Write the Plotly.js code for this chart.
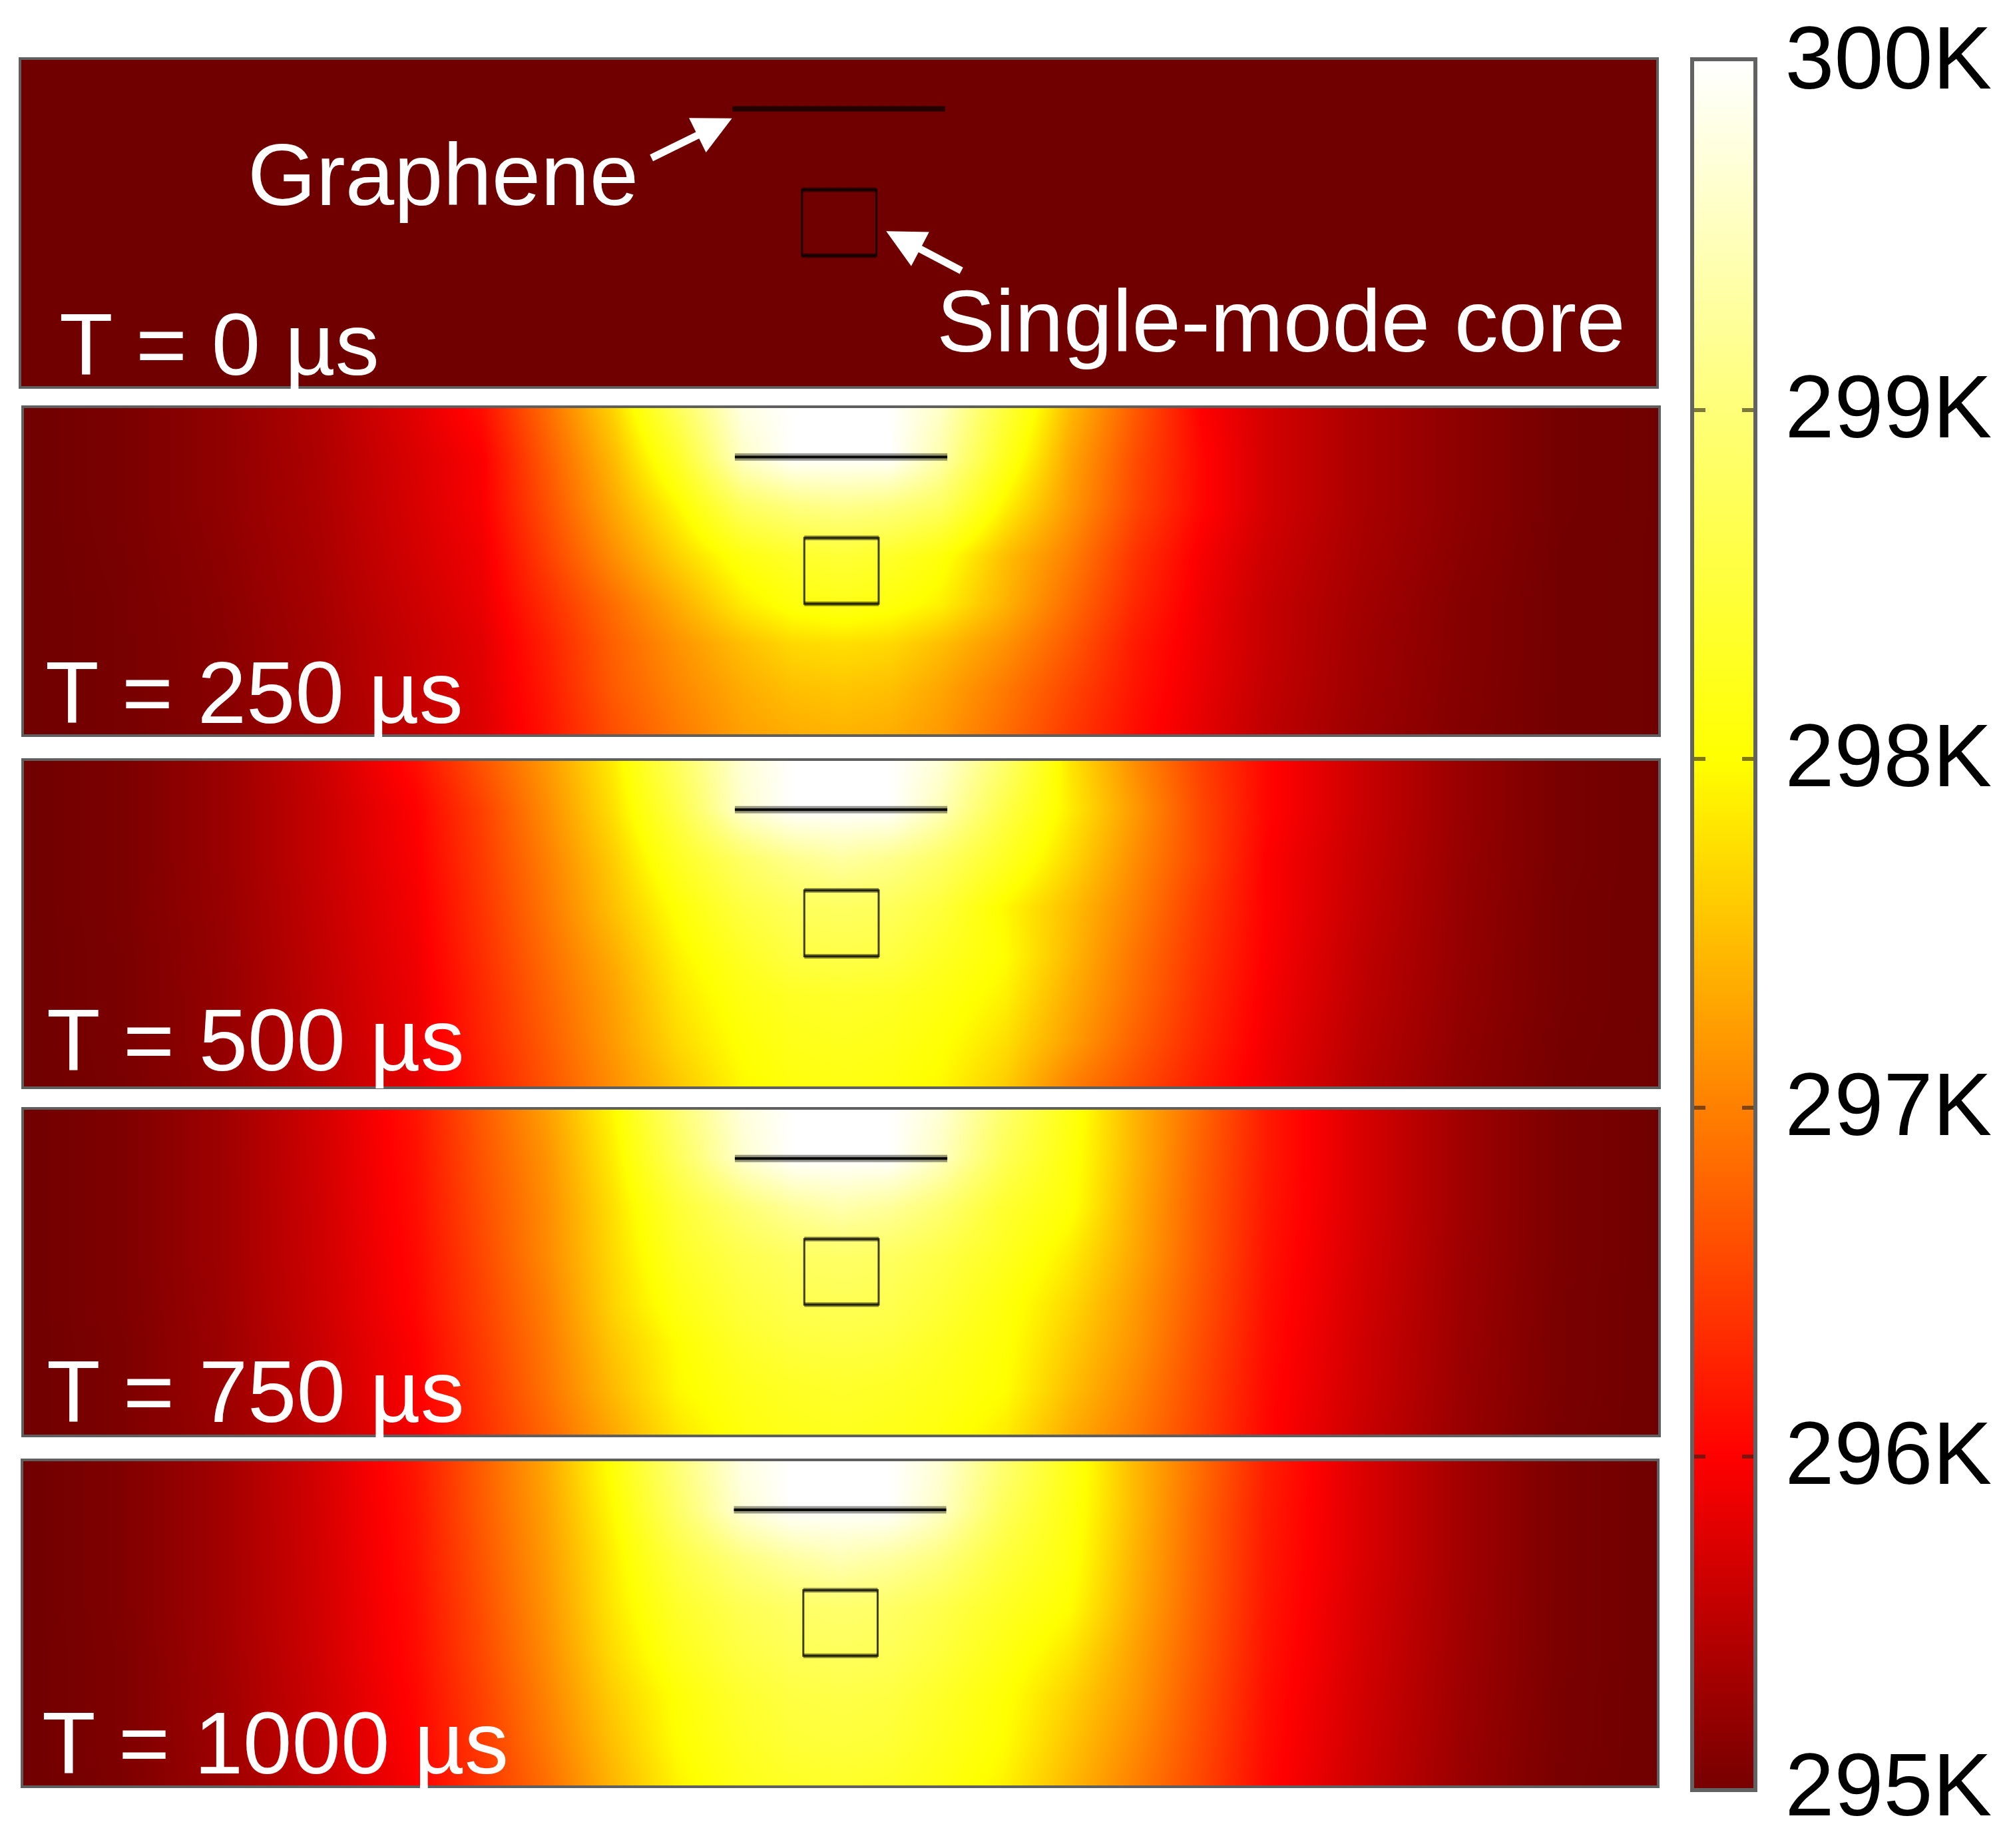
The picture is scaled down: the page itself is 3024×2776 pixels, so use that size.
<!DOCTYPE html>
<html>
<head>
<meta charset="utf-8">
<script src="https://cdn.plot.ly/plotly-3.0.1.min.js"></script>
<style>html,body{margin:0;padding:0;background:#fff}#chart{width:3024px;height:2776px}</style>
</head>
<body>
<div id="chart"></div>
<script>
// Columns: percent of panel width; rows: percent of panel height from the top
const xCols = [0,6,12,18,24,28,32,36,40,44,47,50,53,56,60,64,68,72,76,82,88,94,100];
const yRows = [0,15,30,45,60,72,86,100];

const t0 = [[295,295],[295,295]];
const t250 = [
[295,295.07,295.22,295.45,295.8,296.1,296.85,297.65,298.75,299.8,300,300,300,299.6,298.5,297.45,296.7,296,295.7,295.4,295.2,295.03,295],
[295,295.07,295.22,295.43,295.75,295.98,296.72,297.45,298.35,299.6,300,300,300,299.4,298.25,297.3,296.6,296.05,295.7,295.4,295.2,295.03,295],
[295,295.07,295.22,295.42,295.73,295.96,296.62,297.3,297.95,298.8,299.05,299.15,299.05,298.8,297.9,297.2,296.55,296.05,295.7,295.4,295.2,295.03,295],
[295,295.06,295.2,295.4,295.7,295.9,296.5,297.1,297.65,298.15,298.35,298.45,298.35,298.1,297.5,297,296.4,295.95,295.65,295.38,295.18,295.02,295],
[295,295.05,295.18,295.38,295.65,295.85,296.35,296.85,297.35,297.85,298.1,298.2,298.1,297.9,297.4,296.85,296.3,295.9,295.6,295.35,295.15,295.02,295],
[295,295.05,295.17,295.36,295.62,295.8,296.25,296.75,297.15,297.5,297.7,297.75,297.7,297.5,297.15,296.7,296.2,295.88,295.6,295.33,295.15,295.02,295],
[295,295.05,295.16,295.35,295.6,295.78,296.2,296.7,297.05,297.35,297.5,297.55,297.5,297.3,296.95,296.55,296.15,295.85,295.58,295.32,295.14,295.02,295],
[295,295.05,295.15,295.33,295.58,295.76,296.15,296.6,296.95,297.25,297.35,297.4,297.35,297.2,296.85,296.45,296.1,295.82,295.55,295.3,295.13,295.02,295]
];
const t500 = [
[295,295.08,295.28,295.62,296.1,296.65,297.2,297.85,298.8,299.7,300,300,300,299.7,298.9,297.8,297.1,296.5,296.05,295.62,295.28,295.06,295],
[295,295.08,295.28,295.6,296,296.5,297.1,297.75,298.6,299.65,300,300,300,299.5,298.6,297.85,297.2,296.55,296.05,295.62,295.28,295.06,295],
[295,295.08,295.28,295.6,295.97,296.45,297,297.6,298.3,298.85,299.15,299.3,299.15,298.85,298.3,297.7,297.1,296.55,296,295.6,295.27,295.06,295],
[295,295.08,295.27,295.58,295.93,296.4,296.93,297.5,298.05,298.55,298.75,298.8,298.75,298.5,297.95,297.5,297,296.45,296,295.58,295.26,295.05,295],
[295,295.07,295.26,295.56,295.9,296.35,296.85,297.35,297.9,298.3,298.55,298.6,298.55,298.3,298,297.45,296.9,296.4,295.98,295.55,295.25,295.05,295],
[295,295.07,295.25,295.55,295.87,296.3,296.78,297.25,297.8,298.15,298.3,298.35,298.3,298.15,297.9,297.35,296.85,296.35,295.95,295.53,295.24,295.05,295],
[295,295.07,295.25,295.53,295.85,296.27,296.72,297.2,297.7,298.05,298.2,298.25,298.2,298.05,297.75,297.25,296.75,296.3,295.92,295.5,295.22,295.04,295],
[295,295.06,295.23,295.5,295.82,296.2,296.65,297.1,297.55,297.95,298.1,298.15,298.1,297.95,297.6,297,296.6,296.2,295.88,295.47,295.2,295.03,295]
];
const t750 = [
[295,295.1,295.32,295.68,296.15,296.7,297.25,297.95,298.95,299.75,300,300,300,299.7,298.9,298.15,297.4,296.8,296.2,295.72,295.33,295.08,295],
[295,295.1,295.32,295.67,296.12,296.65,297.15,297.85,298.75,299.65,300,300,300,299.55,298.7,298.1,297.4,296.75,296.2,295.72,295.33,295.08,295],
[295,295.1,295.32,295.66,296.1,296.6,297.1,297.75,298.45,298.95,299.25,299.4,299.25,298.95,298.4,298.05,297.35,296.72,296.18,295.72,295.33,295.08,295],
[295,295.1,295.32,295.65,296.07,296.55,297.08,297.7,298.3,298.65,298.8,298.85,298.8,298.6,298.25,297.85,297.3,296.7,296.15,295.7,295.32,295.08,295],
[295,295.1,295.31,295.64,296.05,296.5,297,297.65,298.15,298.5,298.65,298.7,298.65,298.45,298.1,297.7,297.2,296.65,296.12,295.68,295.31,295.07,295],
[295,295.09,295.3,295.62,296,296.45,296.95,297.55,298,298.35,298.5,298.55,298.5,298.3,298.05,297.6,297.15,296.6,296.1,295.66,295.3,295.07,295],
[295,295.09,295.3,295.6,295.98,296.4,296.9,297.45,297.95,298.2,298.3,298.35,298.3,298.2,298,297.5,297.05,296.55,296.07,295.65,295.29,295.07,295],
[295,295.09,295.28,295.58,295.93,296.35,296.8,297.3,297.8,298.1,298.2,298.25,298.2,298.1,297.85,297.35,296.95,296.5,296.05,295.62,295.28,295.06,295]
];
const t1000 = [
[295,295.11,295.34,295.7,296.17,296.72,297.3,298.05,299,299.8,300,300,300,299.7,298.95,298.2,297.45,296.85,296.25,295.75,295.35,295.08,295],
[295,295.11,295.34,295.69,296.15,296.7,297.25,297.95,298.85,299.7,300,300,300,299.6,298.75,298.15,297.45,296.8,296.22,295.75,295.35,295.08,295],
[295,295.11,295.34,295.68,296.13,296.65,297.2,297.85,298.55,299.05,299.3,299.45,299.3,299.05,298.5,298.1,297.4,296.78,296.2,295.75,295.35,295.08,295],
[295,295.11,295.34,295.67,296.1,296.6,297.15,297.8,298.35,298.7,298.85,298.9,298.85,298.65,298.3,298,297.35,296.75,296.18,295.72,295.34,295.08,295],
[295,295.1,295.33,295.66,296.08,296.55,297.08,297.7,298.2,298.55,298.7,298.75,298.7,298.5,298.15,297.8,297.25,296.7,296.15,295.7,295.33,295.08,295],
[295,295.1,295.32,295.64,296.05,296.5,297.02,297.6,298.05,298.4,298.55,298.6,298.55,298.35,298.05,297.65,297.2,296.65,296.12,295.68,295.32,295.07,295],
[295,295.1,295.31,295.62,296.02,296.45,296.95,297.5,298,298.3,298.45,298.5,298.45,298.25,298,297.55,297.1,296.6,296.1,295.66,295.3,295.07,295],
[295,295.09,295.3,295.6,295.98,296.4,296.85,297.4,297.9,298.2,298.3,298.35,298.3,298.15,297.9,297.45,297,296.55,296.07,295.64,295.29,295.06,295]
];
const timeLabels = ['T = 0 µs','T = 250 µs','T = 500 µs','T = 750 µs','T = 1000 µs'];
const barTempEnds = [295,300];
const barTicks = [295.05,296,297,298,299,300];
const barTickText = ['295K','296K','297K','298K','299K','300K'];
const grapheneX = [43.5,56.5];
const grapheneY = 15;
const coreX = [47.75,52.3];
const coreY = [39.8,60];

const W = 3024, H = 2776;
const FONT = '"Liberation Sans", Arial, sans-serif';
const heat = [[0,'#700000'],[0.2,'#ff0000'],[0.4,'#ff8000'],[0.6,'#ffff00'],[0.8,'#ffff78'],[1,'#ffffff']];
// panel rectangles in pixels, and label anchor pixels
const boxes = [
 {l:32,r:2488,t:90,b:580,tx:87,ty:517},
 {l:36,r:2491,t:613,b:1103,tx:66,ty:1040},
 {l:36,r:2491,t:1143,b:1632,tx:68,ty:1562},
 {l:36,r:2491,t:1667,b:2155,tx:68,ty:2090},
 {l:35,r:2489,t:2195,b:2682,tx:61,ty:2618}
];
const fields = [t0,t250,t500,t750,t1000];
const traces = [], shapes = [], annotations = [];
const layout = {width:W,height:H,margin:{l:0,r:0,t:0,b:0},paper_bgcolor:'#fff',plot_bgcolor:'#fff',showlegend:false};

boxes.forEach((b,i)=>{
  const n = i+1, xn = n===1?'x':'x'+n, yn = n===1?'y':'y'+n;
  const common = {showgrid:false,zeroline:false,showticklabels:false,ticks:'',showline:true,mirror:true,
                  linecolor:'rgba(55,55,55,0.8)',linewidth:4,fixedrange:true};
  layout['xaxis'+(n===1?'':n)] = {...common,anchor:yn,domain:[b.l/W,b.r/W],range:[0,100]};
  layout['yaxis'+(n===1?'':n)] = {...common,anchor:xn,domain:[1-b.b/H,1-b.t/H],range:[100,0]};
  const z = fields[i];
  traces.push({type:'heatmap',x:i===0?[0,100]:xCols,y:i===0?[0,100]:yRows,z:z,xaxis:xn,yaxis:yn,
    zmin:barTempEnds[0],zmax:barTempEnds[1],colorscale:heat,zsmooth:'best',showscale:false,hoverinfo:'skip'});
  const hot = i>0;
  if(hot) shapes.push({type:'line',xref:xn,yref:yn,x0:grapheneX[0],x1:grapheneX[1],y0:grapheneY,y1:grapheneY,
    line:{color:'rgba(0,0,0,0.4)',width:11},layer:'above'});
  shapes.push({type:'line',xref:xn,yref:yn,x0:grapheneX[0],x1:grapheneX[1],y0:grapheneY,y1:grapheneY,
    line:{color:hot?'rgba(0,0,0,0.95)':'rgba(20,0,0,0.85)',width:hot?4:8},layer:'above'});
  shapes.push({type:'rect',xref:xn,yref:yn,x0:coreX[0],x1:coreX[1],y0:coreY[0],y1:coreY[1],
    line:{color:'rgba(0,0,0,0.75)',width:3},layer:'above'});
  [coreY[0],coreY[1]].forEach(cy=>shapes.push({type:'line',xref:xn,yref:yn,x0:coreX[0],x1:coreX[1],y0:cy,y1:cy,
    line:{color:'rgba(0,0,0,0.45)',width:7},layer:'above'}));
  annotations.push({xref:'paper',yref:'paper',x:b.tx/W,y:1-b.ty/H,xanchor:'left',yanchor:'middle',showarrow:false,
    text:timeLabels[i],font:{family:FONT,size:132,color:'#fff'}});
});

// Colour bar as its own heatmap axis, ticks on both inner sides
traces.push({type:'heatmap',x:[0,1],y:barTempEnds,z:[[barTempEnds[0],barTempEnds[0]],[barTempEnds[1],barTempEnds[1]]],
  xaxis:'x6',yaxis:'y6',zmin:barTempEnds[0],zmax:barTempEnds[1],colorscale:heat,zsmooth:'best',showscale:false,hoverinfo:'skip'});
layout.xaxis6 = {anchor:'y6',domain:[2545/W,2634/W],range:[0,1],showgrid:false,zeroline:false,showticklabels:false,ticks:'',
  showline:true,mirror:true,linecolor:'rgba(70,70,70,0.85)',linewidth:6,fixedrange:true};
layout.yaxis6 = {anchor:'x6',side:'right',domain:[1-2686/H,1-92/H],range:[barTicks[0],barTempEnds[1]],tickmode:'array',
  tickvals:barTicks,ticktext:barTickText,ticks:'inside',ticklen:17,tickwidth:6,tickcolor:'rgba(40,30,20,0.6)',
  mirror:'ticks',showline:true,linecolor:'rgba(70,70,70,0.85)',linewidth:6,showgrid:false,zeroline:false,
  ticklabelstandoff:15,ticklabelshift:-6,tickfont:{family:FONT,size:133,color:'#000'},fixedrange:true};

// Callouts on the first panel
annotations.push({xref:'paper',yref:'paper',x:370/W,y:1-262/H,xanchor:'left',yanchor:'middle',showarrow:false,
  text:'Graphene',font:{family:FONT,size:132,color:'#fff'}});
annotations.push({xref:'paper',yref:'paper',x:1405/W,y:1-482/H,xanchor:'left',yanchor:'middle',showarrow:false,
  text:'Single-mode core',font:{family:FONT,size:132,color:'#fff'}});
annotations.push({xref:'x',yref:'y',x:43.47,y:17.9,ax:-124,ay:61,text:' ',showarrow:true,arrowhead:2,arrowsize:1.05,
  arrowwidth:11,arrowcolor:'#fff',standoff:0,startstandoff:0});
annotations.push({xref:'x',yref:'y',x:52.9,y:52.5,ax:116,ay:61,text:' ',showarrow:true,arrowhead:2,arrowsize:1.05,
  arrowwidth:11,arrowcolor:'#fff',standoff:0,startstandoff:0});

layout.shapes = shapes;
layout.annotations = annotations;
Plotly.newPlot('chart',traces,layout,{displayModeBar:false,staticPlot:true});
</script>
</body>
</html>
